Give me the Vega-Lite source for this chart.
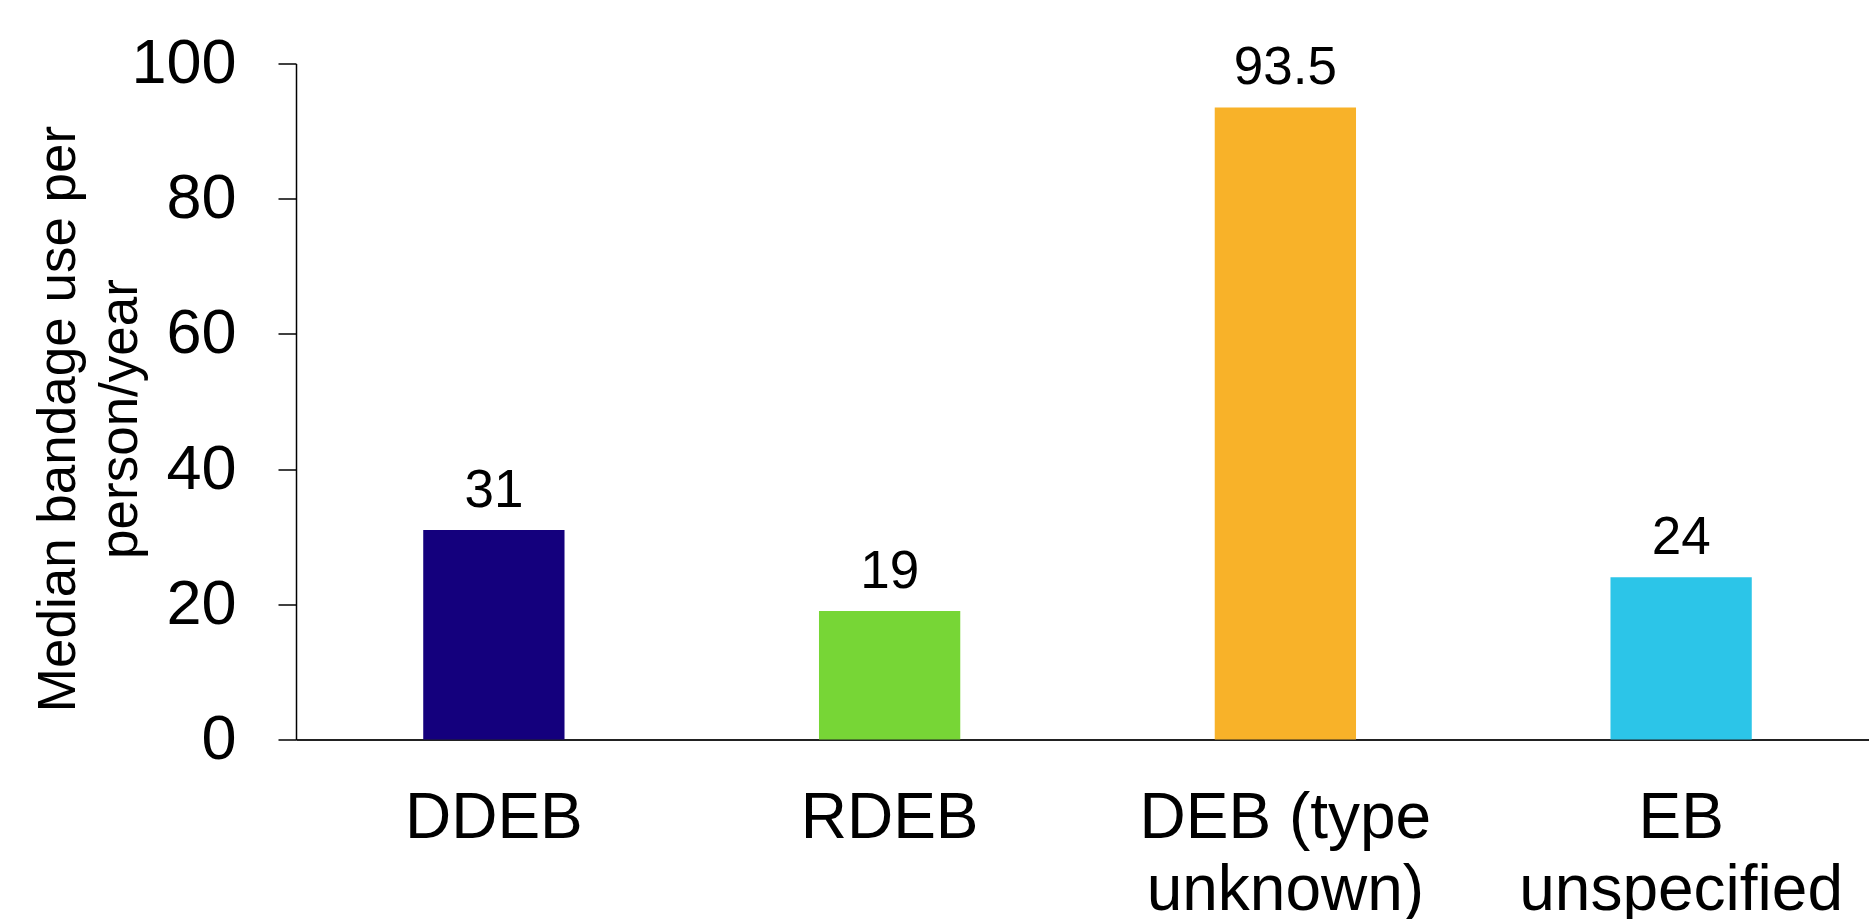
{
  "$schema": "https://vega.github.io/schema/vega-lite/v6.json",
  "width": 1583,
  "height": 676,
  "autosize": {"type": "none"},
  "padding": {"left": 296, "top": 63.5, "right": 0, "bottom": 180},
  "background": "white",
  "config": {
    "view": {"stroke": null},
    "font": "Liberation Sans"
  },
  "data": {
    "values": [
      {"type": "DDEB", "value": 31, "label": "31"},
      {"type": "RDEB", "value": 19, "label": "19"},
      {"type": "DEB (type unknown)", "value": 93.5, "label": "93.5"},
      {"type": "EB unspecified", "value": 24, "label": "24"}
    ]
  },
  "encoding": {
    "x": {
      "field": "type",
      "type": "nominal",
      "sort": null,
      "scale": {"paddingInner": 0.643, "paddingOuter": 0.3215},
      "axis": {
        "title": null,
        "labelAngle": 0,
        "labelFont": "Liberation Sans",
        "labelFontSize": 64,
        "labelColor": "black",
        "labelLineHeight": 72,
        "labelPadding": 47,
        "labelLimit": 0,
        "ticks": false,
        "domainColor": "#222222",
        "domainWidth": 2,
        "labelExpr": "datum.label == 'DEB (type unknown)' ? ['DEB (type', 'unknown)'] : datum.label == 'EB unspecified' ? ['EB', 'unspecified'] : datum.label"
      }
    },
    "y": {
      "field": "value",
      "type": "quantitative",
      "scale": {"domain": [0, 100], "nice": false},
      "axis": {
        "values": [0, 20, 40, 60, 80, 100],
        "grid": false,
        "title": ["Median bandage use per", "person/year"],
        "titleFont": "Liberation Sans",
        "titleFontSize": 53,
        "titleFontWeight": "normal",
        "titleColor": "black",
        "titleLineHeight": 62,
        "titleAngle": 270,
        "titleAlign": "center",
        "titleBaseline": "alphabetic",
        "titleX": -222,
        "titleY": 355,
        "labelFont": "Liberation Sans",
        "labelFontSize": 63,
        "labelColor": "black",
        "labelPadding": 42,
        "tickSize": 18,
        "tickColor": "black",
        "tickWidth": 1.5,
        "domainColor": "black",
        "domainWidth": 1.5
      }
    }
  },
  "layer": [
    {
      "mark": {"type": "bar"},
      "encoding": {
        "color": {
          "field": "type",
          "type": "nominal",
          "sort": null,
          "scale": {
            "domain": ["DDEB", "RDEB", "DEB (type unknown)", "EB unspecified"],
            "range": ["#14007D", "#77D636", "#F8B229", "#2CC5E8"]
          },
          "legend": null
        }
      }
    },
    {
      "mark": {
        "type": "text",
        "font": "Liberation Sans",
        "fontSize": 53,
        "baseline": "alphabetic",
        "align": "center",
        "dy": -23,
        "color": "black"
      },
      "encoding": {
        "text": {"field": "label"}
      }
    }
  ]
}
